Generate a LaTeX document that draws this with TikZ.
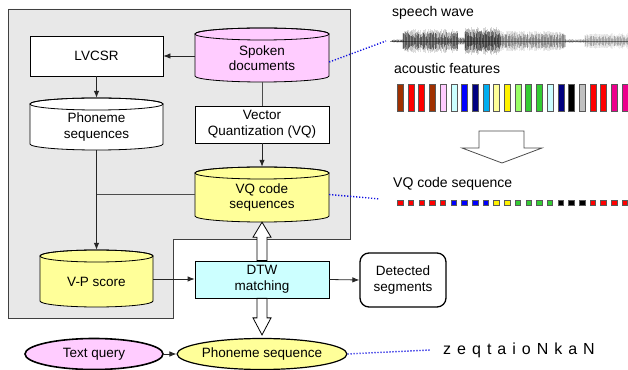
\documentclass[tikz,border=0pt]{standalone}
\usepackage{fontspec}
\setmainfont{Liberation Sans}
\usetikzlibrary{arrows.meta,calc,shapes.geometric}
\definecolor{pinkf}{HTML}{FFCCFF}
\definecolor{yellowf}{HTML}{FFFF99}
\definecolor{cyanf}{HTML}{CCFFFF}
\definecolor{graybg}{HTML}{E8E8E8}
\definecolor{brownc}{HTML}{A03000}
\definecolor{navyc}{HTML}{000080}
\definecolor{lgreen}{HTML}{99FF66}
\definecolor{greenc}{HTML}{33CC33}
\definecolor{silverc}{HTML}{C0C0C0}
\definecolor{dotblue}{HTML}{1010E0}
\newcommand\dbcyl[7]{%
  \path[draw=black, line width=0.8pt, fill=#6]
    ({#2-#4/2},{#3+#5/2-6}) -- ({#2-#4/2},{#3-#5/2+6})
    arc[start angle=180,end angle=360,x radius={#4/2},y radius=6]
    -- ({#2+#4/2},{#3+#5/2-6})
    arc[start angle=0,end angle=180,x radius={#4/2},y radius=6] -- cycle;
  \draw[line width=0.8pt] (#2,{#3+#5/2-6}) ellipse[x radius={#4/2}, y radius=6];
  \node[inner sep=0pt, minimum width=#4pt, minimum height=#5pt] (#1) at (#2,#3) {};
  \node[txt] (#1-t) at (#2,{#3-3}) {#7};
}
\begin{document}
\begin{tikzpicture}[x=1pt,y=1pt,
  txt/.style={align=center, inner sep=0pt, font=\fontsize{13.5}{15.5}\selectfont},
  rtxt/.style={anchor=west, inner sep=0pt, font=\fontsize{14}{16}\selectfont},
  boxn/.style={draw=black, line width=0.8pt, inner sep=0pt, align=center, font=\fontsize{13.5}{15.5}\selectfont},
  arr/.style={draw=black!85, line width=0.8pt, -{Latex[length=7pt,width=5.5pt]}},
  ln/.style={draw=black!70, line width=0.8pt},
  hollow/.style={draw=black, line width=0.8pt, fill=white, line join=miter},
  dotl/.style={draw=dotblue, line width=1.4pt, dash pattern=on 1.2pt off 1.8pt},
  bar/.style={draw=black!65, line width=1pt},
]
\useasboundingbox (0,0) rectangle (628,369);
% gray region
\path[fill=graybg, draw=black!75, line width=0.8pt]
  (8,360) -- (350,360) -- (350,130) -- (173,130) -- (173,51) -- (8,51) -- cycle;

% cylinders
\dbcyl{SD}{262}{314}{134}{54}{pinkf}{Spoken\\documents}
\dbcyl{PS}{96.5}{245}{133}{52}{white}{Phoneme\\sequences}
\dbcyl{VC}{262}{174.5}{134}{55}{yellowf}{VQ code\\sequences}
\dbcyl{VP}{96.5}{90.5}{113}{57}{yellowf}{V-P score}

% boxes
\node[boxn, fill=white, minimum width=133pt, minimum height=40pt] (LV) at (96.5,313) {LVCSR};
\node[boxn, fill=white, minimum width=134pt, minimum height=37pt] (VQ) at (262,244.5) {Vector\\Quantization (VQ)};
\node[boxn, fill=cyanf, minimum width=134pt, minimum height=37pt] (DTW) at (262,89.5) {DTW\\matching};
\node[boxn, line width=1.3pt, rounded corners=9pt, minimum width=86pt, minimum height=54pt] (DS) at (403,89) {Detected\\segments};
\node[ellipse, draw=black, line width=1.6pt, fill=pinkf, minimum width=138pt, minimum height=31pt, inner sep=0pt,
      font=\fontsize{13.5}{15.5}\selectfont] (TQ) at (94,15) {Text query};
\node[ellipse, draw=black, line width=1.2pt, fill=yellowf, minimum width=144pt, minimum height=31pt, inner sep=0pt,
      font=\fontsize{13.5}{15.5}\selectfont] (PE) at (262,15) {Phoneme sequence};

% connectors
\draw[arr] (LV.east -| SD.west) -- (LV.east);
\draw[arr] (LV.south) -- (PS.north);
\draw[ln] (SD.south) -- (VQ.north);
\draw[arr] (VQ.south) -- (VC.north);
\draw[arr] (PS.south) -- (VP.north);
\draw[ln] (VC.west) -- (VC.west -| PS.south);
\draw[arr] (VP.east |- 0,90) -- (DTW.west |- 0,90);
\draw[arr] (DTW.east) -- (DS.west);
\draw[arr] (TQ.east) -- (PE.west);

% hollow arrows
\draw[hollow] let \p1=(DTW.north), \p2=(VC.south) in
  (\x1-5pt,\y1) -- (\x1-5pt,\y2-15pt) -- (\x1-9pt,\y2-15pt) -- (\x1,\y2)
  -- (\x1+9pt,\y2-15pt) -- (\x1+5pt,\y2-15pt) -- (\x1+5pt,\y1) -- cycle;
\draw[hollow] let \p1=(DTW.south), \p2=(PE.north) in
  (\x1-5pt,\y1) -- (\x1-5pt,\y2+20pt) -- (\x1-9pt,\y2+20pt) -- (\x1,\y2+3pt)
  -- (\x1+9pt,\y2+20pt) -- (\x1+5pt,\y2+20pt) -- (\x1+5pt,\y1) -- cycle;

% right side
\node[rtxt] (sw) at (392,356.5) {speech wave};
\node[rtxt] (af) at (394,300) {acoustic features};
\node[rtxt] (vs) at (393,185) {VQ code sequence};
\node[anchor=west, inner sep=0pt, font=\fontsize{16}{18}\selectfont] (zq) at (443,19)
  {z\hspace{6pt}e\hspace{6pt}q\hspace{6pt}t\hspace{6pt}a\hspace{6pt}i\hspace{6pt}o\hspace{6pt}N\hspace{6pt}k\hspace{6pt}a\hspace{6pt}N};

\coordinate (wv) at (386,328);
\coordinate (vqs) at (380,170);
\coordinate (phs) at (430,19);
\draw[dotl] ([yshift=-7pt]SD.east) -- (wv);
\draw[dotl] (VC.east) -- (vqs);
\draw[dotl] (PE.east) -- (phs);

% speech wave (blurred look)
\draw[black!45, line width=0.7pt] (390,328) -- (628,328);
\pgfmathsetseed{4711}
\foreach \xa/\xb/\am/\op in {392/403/1.5/0.25, 403/458/11/0.32, 458/465/4/0.25, 465/500/13/0.38, 500/565/9.5/0.2, 565/585/2/0.15, 585/628/7/0.14}{
  \pgfmathtruncatemacro\nn{(\xb-\xa)/0.6}
  \foreach \k in {0,...,\nn}{
    \pgfmathsetmacro\xx{\xa+0.6*\k}
    \pgfmathsetmacro\aa{\am*(0.2+0.6*rnd)}
    \pgfmathsetmacro\bb{\am*(0.6+0.5*rnd)}
    \draw[black, opacity={\op*0.4}, line width=1.3pt] (\xx,{328-\bb}) -- (\xx,{328+\bb});
    \draw[black, opacity=\op, line width=0.6pt] (\xx,{328-\aa}) -- (\xx,{328+\aa});
  }
}

% acoustic feature bars
\foreach \c [count=\i from 0] in {brownc,red,red,brownc,pinkf,cyanf,blue,navyc,cyan,yellowf,yellow,lgreen,greenc,greenc,cyanf,navyc,black,silverc,red,red,magenta,magenta}{
  \path[bar, fill=\c] ({397.5+10.7*\i},257) rectangle ({403.5+10.7*\i},284);
}
% VQ code squares
\foreach \c [count=\i from 0] in {red,red,red,red,red,blue,blue,blue,blue,yellow,yellow,greenc,greenc,greenc,greenc,black,black,black,red,red,red,red}{
  \path[draw=black!65, line width=0.8pt, fill=\c] ({397.5+10.7*\i},163.5) rectangle ({403+10.7*\i},169);
}
% big hollow arrow
\path[hollow, draw=black!70] (479,238) -- (524,238) -- (524,221) -- (542,221) -- (502,206) -- (462,221) -- (479,221) -- cycle;
\end{tikzpicture}
\end{document}
